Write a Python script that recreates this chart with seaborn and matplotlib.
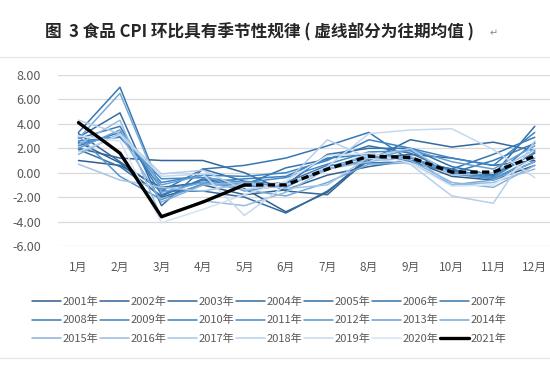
import numpy as np
import pandas as pd
import matplotlib
matplotlib.use('Agg')
import matplotlib.pyplot as plt
from matplotlib.colors import LinearSegmentedColormap
from matplotlib.lines import Line2D
import seaborn as sns

# 月份与年份
months = ['1月', '2月', '3月', '4月', '5月', '6月', '7月', '8月', '9月', '10月', '11月', '12月']
years = [str(y) + '年' for y in range(2001, 2021)]

# 2001-2020 食品CPI环比
hist = [
    [1.0, 0.6, -1.2, -0.8, -1.3, -3.2, -1.6, 1.3, 1.0, -0.3, -0.6, 0.6],
    [2.5, 0.8, -2.0, -1.0, -1.8, -1.4, -0.2, 0.5, 1.0, 0.3, -0.5, 0.9],
    [2.0, 1.2, 1.0, 1.0, 0.0, -1.5, -1.8, 1.2, 1.5, 1.2, 0.6, 1.0],
    [3.2, 0.9, -1.5, -1.5, -2.0, -3.3, -1.5, 1.0, 2.7, 2.1, 2.5, 1.8],
    [2.9, 4.9, -2.7, 0.3, -0.7, -1.0, 1.5, 2.0, 2.0, 0.5, -0.2, 3.8],
    [1.9, 0.5, -1.9, -0.5, -1.0, 0.4, 1.1, 2.2, 1.6, 0.1, -0.2, 1.6],
    [3.3, 7.0, -1.5, 0.3, 0.6, 1.2, 2.2, 3.3, 1.0, 0.3, 1.5, 2.9],
    [2.8, 3.8, -1.8, -0.6, -1.1, -0.8, 0.6, 0.8, 0.9, 0.0, 1.0, 2.4],
    [2.2, 3.3, -1.3, -0.8, -0.5, -0.3, 1.2, 1.5, 1.2, 0.2, -0.3, 2.5],
    [2.6, 2.9, -0.8, -0.2, -0.3, 0.0, 1.0, 2.7, 2.0, 1.2, 0.6, 3.3],
    [2.4, 3.0, -0.5, -0.4, -0.8, -0.4, 0.7, 1.7, 1.8, 0.0, -0.4, 1.7],
    [3.0, -0.3, -2.2, -0.9, -1.1, -1.2, 0.5, 1.3, 1.3, -0.1, -0.5, 1.2],
    [2.0, 3.5, -1.0, -0.2, -1.5, -1.0, 0.3, 1.1, 1.9, 0.9, 0.3, 2.2],
    [2.8, 6.5, -1.6, -0.8, -1.4, -1.9, -0.8, 0.7, 0.8, -1.0, -0.6, 0.9],
    [1.5, 3.2, -2.4, -1.0, -0.8, -1.0, 0.2, 1.6, 1.0, -0.8, -1.2, 0.6],
    [2.3, 4.3, -3.7, -2.3, -2.7, -1.6, 0.3, 0.9, 1.4, -1.0, -0.8, 0.3],
    [0.7, -0.6, -1.2, -1.5, -0.9, -1.3, -1.0, 1.3, 2.0, -0.2, 0.0, 1.9],
    [4.3, 3.2, -0.1, 0.2, -1.4, -0.8, 2.7, 1.2, 0.7, -1.9, -2.5, 2.6],
    [1.7, 3.1, -0.3, -0.1, -3.5, -1.0, 0.5, 3.2, 3.5, 3.6, 1.9, -0.4],
    [3.0, 2.6, -4.1, -3.0, -1.8, -0.7, 1.4, 1.6, 0.8, -1.1, -1.0, 1.3],
]

# 2021年实际值（1-5月）与往期均值（5-12月）
cur_vals = [4.1, 1.6, -3.6, -2.4, -1.0]
avg_vals = [-1.0, -1.0, 0.3, 1.35, 1.25, 0.05, 0.05, 1.35]

ytick_labels = ['8.00', '6.00', '4.00', '2.00', '0.00', '-2.00', '-4.00', '-6.00']

# 整理成长表
rows = []
for y, vals in zip(years, hist):
    for m, v in zip(months, vals):
        rows.append({'year': y, 'month': m, 'value': v})
df = pd.DataFrame(rows)
df['x'] = df['month'].map({m: i for i, m in enumerate(months)})

cmap = LinearSegmentedColormap.from_list('b', ['#2E5E8C', '#3D86C8', '#D6E2F2'])
palette = [cmap(i) for i in np.linspace(0, 1, len(years))]

sns.set_style('white')
plt.rcParams['font.family'] = ['Noto Sans CJK SC', 'DejaVu Sans']

fig = plt.figure(figsize=(5.5, 3.75), dpi=100)
ax = fig.add_axes([0.105, 0.344, 0.905, 0.456])

sns.lineplot(data=df, x='x', y='value', hue='year', palette=palette,
             linewidth=1.1, legend=False, ax=ax, sort=False)

cur = pd.DataFrame({'x': range(5), 'value': cur_vals})
avg = pd.DataFrame({'x': range(4, 12), 'value': avg_vals})
sns.lineplot(data=avg, x='x', y='value', color='black', linewidth=2.4,
             linestyle=(0, (2.2, 1.3)), ax=ax)
sns.lineplot(data=cur, x='x', y='value', color='black', linewidth=2.4, ax=ax)

ax.set_xlim(-0.5, 11.5)
ax.set_ylim(-6, 8)
ax.set_yticks(np.arange(8, -7, -2))
ax.set_yticklabels(ytick_labels)
ax.set_xticks(range(12))
ax.set_xticklabels(months)
ax.set_xlabel('')
ax.set_ylabel('')
ax.grid(axis='y', color='#D9D9D9', linewidth=0.9)
ax.set_axisbelow(True)
for s in ax.spines.values():
    s.set_visible(False)
ax.tick_params(axis='y', length=0, pad=12, labelsize=9, labelcolor='#595959')
ax.tick_params(axis='x', length=0, pad=11, labelsize=8.5, labelcolor='#595959')

# 图例（按行排列）
handles = [Line2D([], [], color=c, linewidth=1.1) for c in palette]
handles.append(Line2D([], [], color='black', linewidth=2.4))
labels = years + ['2021年']
ncol, nrow = 7, 3
order = [r * ncol + c for c in range(ncol) for r in range(nrow)]
fig.legend([handles[i] for i in order], [labels[i] for i in order],
           ncol=ncol, loc='center', bbox_to_anchor=(0.49, 0.146),
           frameon=False, fontsize=8, handlelength=2.6, handletextpad=0.15,
           columnspacing=0.15, labelspacing=0.75, labelcolor='#595959')

fig.text(0.082, 0.915, '图  3 食品 CPI 环比具有季节性规律 ( 虚线部分为往期均值 )',
         fontsize=12, fontweight='bold', ha='left', va='center')
fig.text(0.89, 0.912, '↵', fontsize=7, color='#888888', ha='left', va='center',
         family=['DejaVu Sans'])

fig.add_artist(Line2D([0, 1], [0.848, 0.848], color='#E6E6E6', linewidth=0.8))
fig.add_artist(Line2D([0, 1], [0.045, 0.045], color='#E6E6E6', linewidth=0.8))

fig.savefig('out.png', dpi=100)
